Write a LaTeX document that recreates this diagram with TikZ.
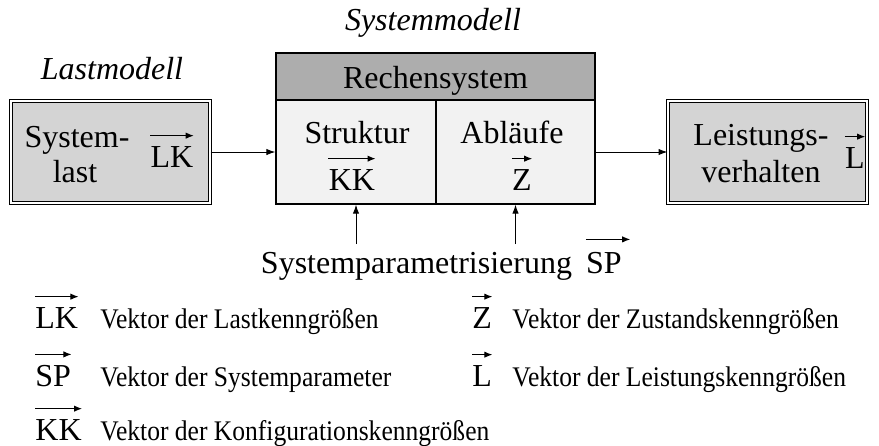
\documentclass[tikz,border=0pt]{standalone}
\usepackage{fontspec}
\setmainfont{Liberation Serif}
\newfontfamily\legendefont[FakeStretch=0.9]{Liberation Serif}
\usetikzlibrary{arrows.meta}

\definecolor{kastengrau}{gray}{0.83}
\definecolor{kopfgrau}{gray}{0.68}
\definecolor{zellgrau}{gray}{0.95}

\begin{document}
\begin{tikzpicture}[x=0.5pt,y=-0.5pt]
  \tikzset{KastenStyle/.style = {
    shape           = rectangle,
    draw            = black,
    fill            = kastengrau,
    line width      = 0.5pt,
    double          = white,
    double distance = 1pt,
    minimum width   = 99.5pt,
    minimum height  = 51pt,
    inner sep       = 0pt
    }
  }
  \tikzset{ZelleStyle/.style = {
    shape          = rectangle,
    draw           = black,
    fill           = zellgrau,
    line width     = 0.6pt,
    minimum height = 52pt,
    inner sep      = 0pt
    }
  }
  \tikzset{TextStyle/.style = {
    font      = \fontsize{16}{19}\selectfont,
    inner sep = 0pt,
    anchor    = base
    }
  }
  \tikzset{TitelStyle/.style = {
    TextStyle,
    font = \fontsize{16}{19}\selectfont\itshape
    }
  }
  \tikzset{SymbolStyle/.style = {
    TextStyle,
    anchor = base west
    }
  }
  \tikzset{LegendeStyle/.style = {
    font      = \legendefont\fontsize{14.2}{17}\selectfont,
    inner sep = 0pt,
    anchor    = base west
    }
  }
  \tikzset{PfeilStyle/.style = {
    draw       = black,
    line width = 0.5pt,
    -{Latex[length=4.5pt,width=3.2pt]}
    }
  }
  \tikzset{VektorStyle/.style = {
    draw       = black,
    line width = 0.5pt,
    -{Latex[length=4pt,width=3.2pt]}
    }
  }

  \useasboundingbox (0,0) rectangle (879,445);

  % Titel
  \node[TitelStyle](systemmodell) at (433,30) {Systemmodell};
  \node[TitelStyle](lastmodell) at (112,79) {Lastmodell};

  % Kaesten
  \node[KastenStyle](systemlast) at (110.5,152) {};
  \node[KastenStyle](leistung) at (767.5,152) {};
  \node[ZelleStyle, fill=kopfgrau, minimum width=159.5pt, minimum height=23.5pt](kopf) at (435.5,76.5) {};
  \node[ZelleStyle, minimum width=80pt](struktur) at (356,152) {};
  \node[ZelleStyle, minimum width=79.5pt](ablaeufe) at (515.5,152) {};

  % Texte in den Kaesten
  \node[TextStyle](sys1) at (77,147) {System-};
  \node[TextStyle](sys2) at (75,182) {last};
  \node[TextStyle](lkA) at (172,167) {LK};
  \node[TextStyle](rechen) at (435.5,88) {Rechensystem};
  \node[TextStyle](strukt) at (357,143) {Struktur};
  \node[TextStyle](kkA) at (352,190) {KK};
  \node[TextStyle](ablauf) at (512,143) {Abläufe};
  \node[TextStyle](zA) at (522,190) {Z};
  \node[TextStyle](lei1) at (761,145) {Leistungs-};
  \node[TextStyle](lei2) at (761,182) {verhalten};
  \node[TextStyle](lA) at (855,168) {L};
  \node[TextStyle](param) at (416.5,273) {Systemparametrisierung};
  \node[TextStyle](spA) at (604,273) {SP};

  \draw[VektorStyle]([yshift=5pt]lkA.north west) -- ([yshift=5pt]lkA.north east);
  \draw[VektorStyle]([yshift=5pt]kkA.north west) -- ([yshift=5pt]kkA.north east);
  \draw[VektorStyle]([yshift=5pt]zA.north west) -- ([yshift=5pt]zA.north east);
  \draw[VektorStyle]([yshift=5pt]lA.north west) -- ([yshift=5pt]lA.north east);
  \draw[VektorStyle]([yshift=6pt]spA.north west) -- ([xshift=4pt,yshift=6pt]spA.north east);

  % Verbindungen
  \coordinate (p1) at (356,244);
  \coordinate (p2) at (515.5,244);
  \draw[PfeilStyle](systemlast) -- (struktur);
  \draw[PfeilStyle](ablaeufe) -- (leistung);
  \draw[PfeilStyle](p1) -- (struktur.south);
  \draw[PfeilStyle](p2) -- (ablaeufe.south);

  % Legende
  \node[SymbolStyle](lkB) at (35,328) {LK};
  \node[SymbolStyle](spB) at (35,386) {SP};
  \node[SymbolStyle](kkB) at (35,440) {KK};
  \node[SymbolStyle](zB) at (472,328) {Z};
  \node[SymbolStyle](lB) at (472,386) {L};
  \node[LegendeStyle](lkT) at (100,328) {Vektor der Lastkenngrößen};
  \node[LegendeStyle](spT) at (100,386) {Vektor der Systemparameter};
  \node[LegendeStyle](kkT) at (100,440) {Vektor der Konfigurationskenngrößen};
  \node[LegendeStyle](zT) at (512,328) {Vektor der Zustandskenngrößen};
  \node[LegendeStyle](lT) at (512,386) {Vektor der Leistungskenngrößen};

  \draw[VektorStyle]([yshift=5pt]lkB.north west) -- ([yshift=5pt]lkB.north east);
  \draw[VektorStyle]([yshift=5pt]spB.north west) -- ([yshift=5pt]spB.north east);
  \draw[VektorStyle]([yshift=5pt]kkB.north west) -- ([yshift=5pt]kkB.north east);
  \draw[VektorStyle]([yshift=5pt]zB.north west) -- ([yshift=5pt]zB.north east);
  \draw[VektorStyle]([yshift=5pt]lB.north west) -- ([yshift=5pt]lB.north east);

\end{tikzpicture}
\end{document}
